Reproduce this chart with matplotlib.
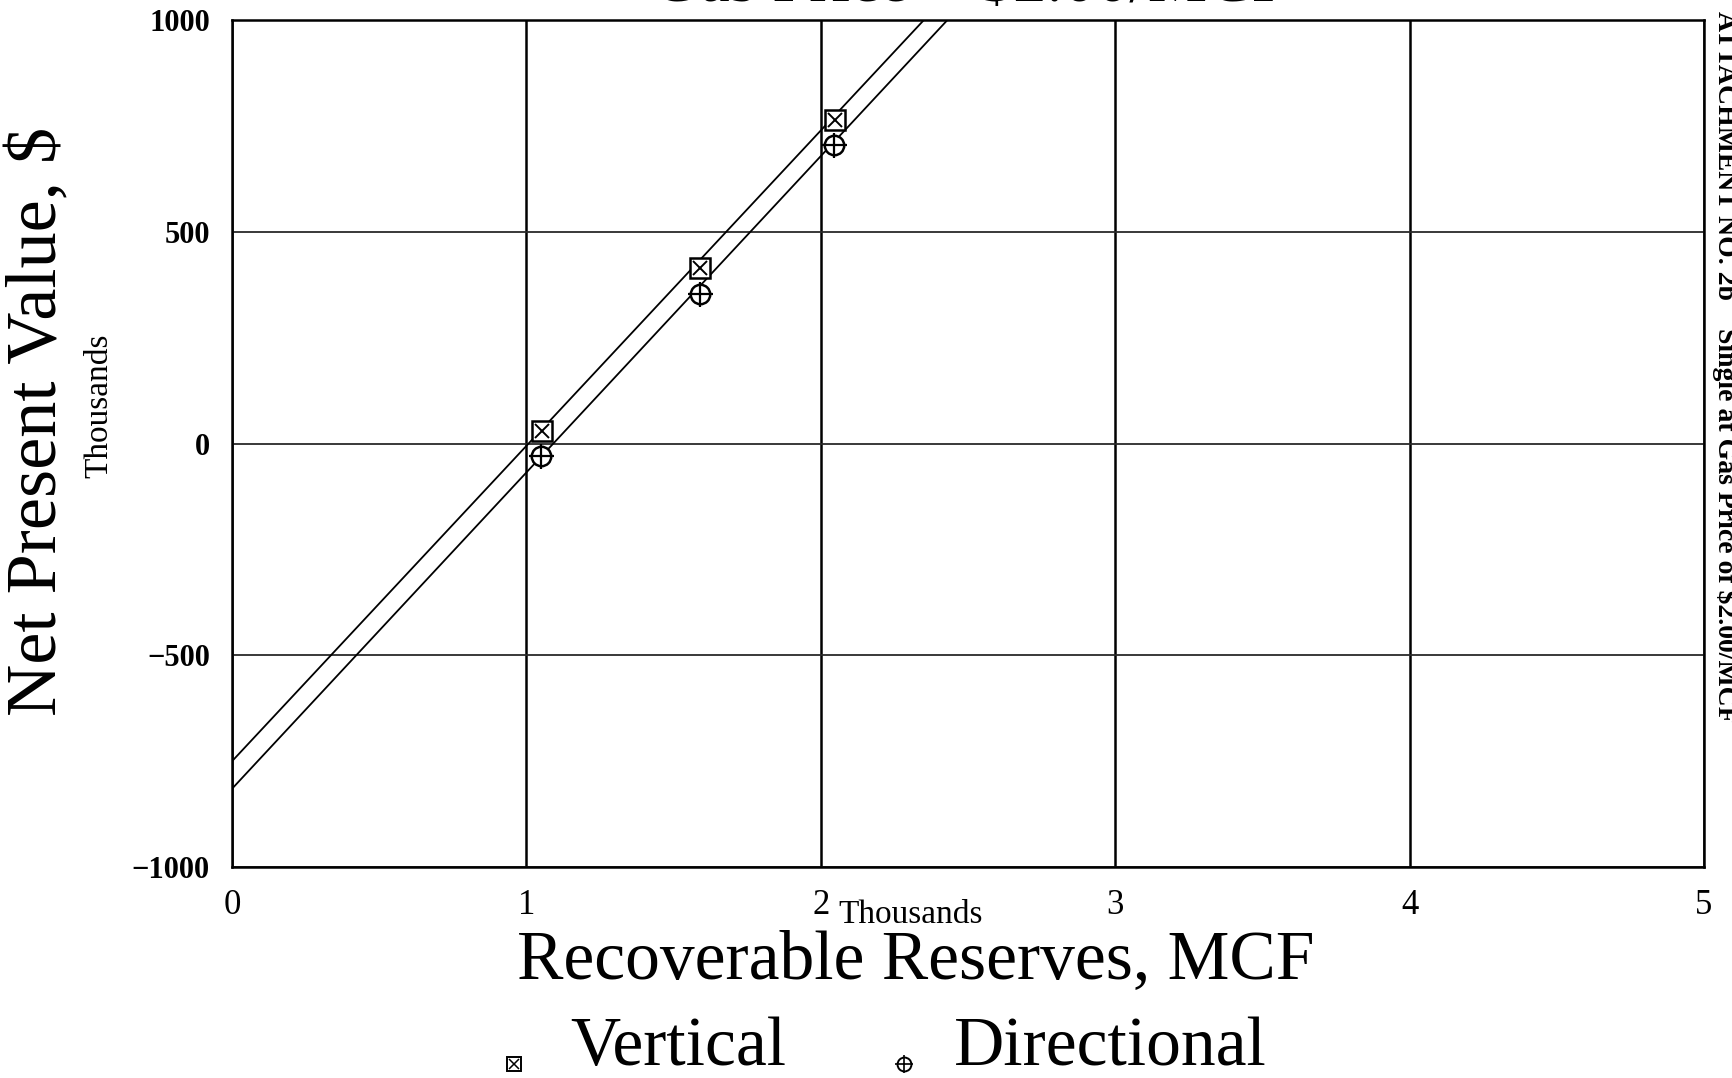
import matplotlib
matplotlib.use('Agg')
from matplotlib import pyplot as plt
from matplotlib.lines import Line2D

plt.rcParams['font.family'] = ['Liberation Serif', 'DejaVu Serif']

# %% Data (reserves in thousand MCF, NPV in thousand $)

vert_x = [1.054, 1.59, 2.048]
vert_y = [29, 414, 765]
dir_x = [1.05, 1.59, 2.044]
dir_y = [-29, 354, 705]

# fitted lines drawn across the plot
vert_line_x = [0, 2.35]
vert_line_y = [-750, 1000]
dir_line_x = [0, 2.43]
dir_line_y = [-815, 1000]

x_ticks = [0, 1, 2, 3, 4, 5]
y_ticks = [-1000, -500, 0, 500, 1000]
y_labels = ['\u22121000', '\u2212500', '0', '500', '1000']

# %% Figure

fig = plt.figure(figsize=(17.32, 10.78), dpi=100)
ax = fig.add_axes([0.134, 0.1957, 0.8498, 0.7857])

ax.set_xlim(0, 5)
ax.set_ylim(-1000, 1000)

for xv in x_ticks:
    ax.axvline(xv, color='black', lw=1.8, zorder=1)
for yv in y_ticks:
    ax.axhline(yv, color='#2a2a2a', lw=1.3, zorder=1)

ax.plot(vert_line_x, vert_line_y, color='black', lw=1.3, zorder=2)
ax.plot(dir_line_x, dir_line_y, color='black', lw=1.3, zorder=2)

# boxed-x markers
ax.plot(vert_x, vert_y, ls='none', marker='s', ms=15, mfc='white', mec='black', mew=1.8, zorder=3)
ax.plot(vert_x, vert_y, ls='none', marker='x', ms=10, mec='black', mew=1.4, zorder=4)
# circle-plus markers
ax.plot(dir_x, dir_y, ls='none', marker='o', ms=14, mfc='white', mec='black', mew=1.8, zorder=3)
ax.plot(dir_x, dir_y, ls='none', marker='+', ms=18, mec='black', mew=1.6, zorder=4)

for s in ax.spines.values():
    s.set_linewidth(1.8)

ax.set_xticks(x_ticks)
ax.set_xticklabels([str(v) for v in x_ticks], fontsize=25)
ax.set_yticks(y_ticks)
ax.set_yticklabels(y_labels, fontsize=22, fontweight='bold')
ax.tick_params(length=0)
ax.tick_params(axis='x', pad=16)
ax.tick_params(axis='y', pad=16)

# %% Labels

fig.text(0.0225, 0.609, 'Net Present Value, $', rotation=90, fontsize=52,
         ha='center', va='center')
fig.text(0.057, 0.624, 'Thousands', rotation=90, fontsize=24,
         ha='center', va='center')
fig.text(0.526, 0.151, 'Thousands', fontsize=24, ha='center', va='center')
fig.text(0.529, 0.108, 'Recoverable Reserves, MCF', fontsize=50,
         ha='center', va='center')

# title sits at the very top edge
fig.text(0.56, 0.9988, 'Gas Price = $2.00/MCF', fontsize=48, ha='center',
         va='baseline')

fig.text(0.996, 0.99, 'ATTACHMENT NO. 2b    Single at Gas Price of $2.00/MCF',
         rotation=-90, fontsize=20, fontweight='bold', ha='center', va='top')

# %% Legend

fig.add_artist(Line2D([0.297], [0.013], transform=fig.transFigure, ls='none',
                      marker='s', ms=10, mfc='white', mec='black', mew=1.4))
fig.add_artist(Line2D([0.297], [0.013], transform=fig.transFigure, ls='none',
                      marker='x', ms=7, mec='black', mew=1.1))
fig.text(0.329, 0.012, 'Vertical', fontsize=50, ha='left', va='baseline')

fig.add_artist(Line2D([0.522], [0.013], transform=fig.transFigure, ls='none',
                      marker='o', ms=10, mfc='white', mec='black', mew=1.4))
fig.add_artist(Line2D([0.522], [0.013], transform=fig.transFigure, ls='none',
                      marker='+', ms=13, mec='black', mew=1.2))
fig.text(0.551, 0.012, 'Directional', fontsize=50, ha='left', va='baseline')

fig.savefig('out.png', dpi=100)
